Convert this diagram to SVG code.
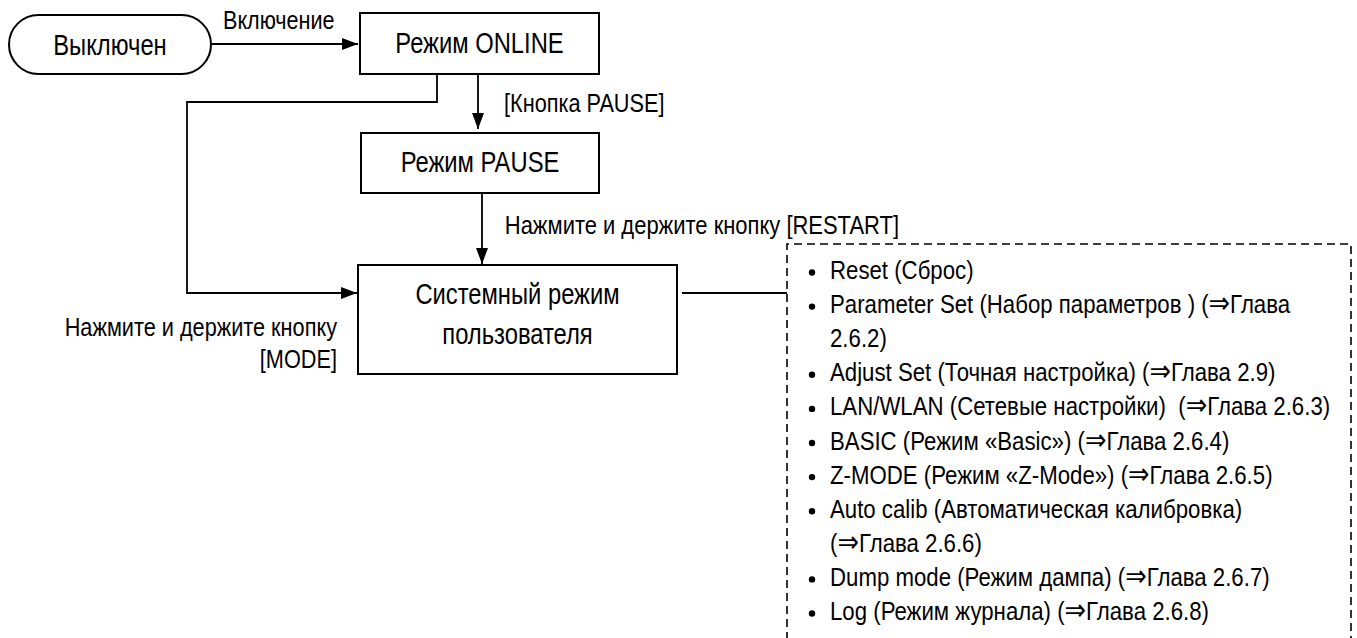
<svg xmlns="http://www.w3.org/2000/svg" width="1357" height="638" viewBox="0 0 1357 638">
<defs>
<style>
text{font-family:"Liberation Sans",Arial,"DejaVu Sans",sans-serif;fill:#000;}
.n{font-size:29px;text-anchor:middle;}
.l{font-size:26px;}
.e{text-anchor:end;}
.ar{font-family:"DejaVu Sans",sans-serif;font-size:30px;}
.box{fill:#fff;stroke:#000;stroke-width:2;}
.ln{fill:none;stroke:#000;stroke-width:1.8;}
.dash{fill:none;stroke:#000;stroke-width:1.6;stroke-dasharray:8 5;}
.b{fill:#000;}
</style>
<marker id="ah" markerUnits="userSpaceOnUse" markerWidth="17" markerHeight="12" refX="16" refY="6" orient="auto">
<path d="M0,0 L16,6 L0,12 z" fill="#000"/>
</marker>
</defs>
<rect width="1357" height="638" fill="#fff"/>
<g id="connectors">
<path class="ln" d="M211,44 H358" marker-end="url(#ah)"/>
<path class="ln" d="M478,74 V129" marker-end="url(#ah)"/>
<path class="ln" d="M437,74 V102 H187 V293 H357" marker-end="url(#ah)"/>
<path class="ln" d="M482,193 V264" marker-end="url(#ah)"/>
<path class="ln" d="M682,293 H787"/>
</g>
<g id="labels">
<text class="l" transform="translate(223,29) scale(0.83,1)">Включение</text>
<text class="l" transform="translate(504,112) scale(0.835,1)">[Кнопка PAUSE]</text>
<text class="l e" transform="translate(899,234) scale(0.845,1)">Нажмите и держите кнопку [RESTART]</text>
<text class="l e" transform="translate(337,336) scale(0.835,1)">Нажмите и держите кнопку</text>
<text class="l e" transform="translate(337,368) scale(0.835,1)">[MODE]</text>
</g>
<g id="node-off">
<rect class="box" x="9" y="15" width="202" height="59" rx="29.5" ry="29.5"/>
<text class="n" transform="translate(110,55) scale(0.82,1)">Выключен</text>
</g>
<g id="node-online">
<rect class="box" x="360" y="13" width="239" height="61"/>
<text class="n" transform="translate(479.5,53) scale(0.82,1)">Режим ONLINE</text>
</g>
<g id="node-pause">
<rect class="box" x="361" y="133" width="238" height="60"/>
<text class="n" transform="translate(480,172) scale(0.82,1)">Режим PAUSE</text>
</g>
<g id="node-system">
<rect class="box" x="358" y="265" width="319" height="109"/>
<text class="n" transform="translate(517.5,304) scale(0.82,1)">Системный режим</text>
<text class="n" transform="translate(517.5,344) scale(0.82,1)">пользователя</text>
</g>
<g id="node-list">
<path class="dash" d="M787,640 V244 H1351 V640"/>
<circle class="b" cx="812" cy="272.5" r="3.2"/>
<text class="l" transform="translate(830,279) scale(0.855,1)">Reset (Сброс)</text>
<circle class="b" cx="812" cy="306.6" r="3.2"/>
<text class="l" transform="translate(830,313.1) scale(0.855,1)">Parameter Set (Набор параметров ) (<tspan class="ar">⇒</tspan>Глава</text>
<text class="l" transform="translate(830,347.2) scale(0.855,1)">2.6.2)</text>
<circle class="b" cx="812" cy="374.8" r="3.2"/>
<text class="l" transform="translate(830,381.3) scale(0.855,1)">Adjust Set (Точная настройка) (<tspan class="ar">⇒</tspan>Глава 2.9)</text>
<circle class="b" cx="812" cy="408.9" r="3.2"/>
<text class="l" transform="translate(830,415.4) scale(0.855,1)">LAN/WLAN (Сетевые настройки)&#160; (<tspan class="ar">⇒</tspan>Глава 2.6.3)</text>
<circle class="b" cx="812" cy="443" r="3.2"/>
<text class="l" transform="translate(830,449.5) scale(0.855,1)">BASIC (Режим «Basic») (<tspan class="ar">⇒</tspan>Глава 2.6.4)</text>
<circle class="b" cx="812" cy="477.1" r="3.2"/>
<text class="l" transform="translate(830,483.6) scale(0.855,1)">Z-MODE (Режим «Z-Mode») (<tspan class="ar">⇒</tspan>Глава 2.6.5)</text>
<circle class="b" cx="812" cy="511.2" r="3.2"/>
<text class="l" transform="translate(830,517.7) scale(0.855,1)">Auto calib (Автоматическая калибровка)</text>
<text class="l" transform="translate(830,551.8) scale(0.855,1)">(<tspan class="ar">⇒</tspan>Глава 2.6.6)</text>
<circle class="b" cx="812" cy="579.4" r="3.2"/>
<text class="l" transform="translate(830,585.9) scale(0.855,1)">Dump mode (Режим дампа) (<tspan class="ar">⇒</tspan>Глава 2.6.7)</text>
<circle class="b" cx="812" cy="613.5" r="3.2"/>
<text class="l" transform="translate(830,620) scale(0.855,1)">Log (Режим журнала) (<tspan class="ar">⇒</tspan>Глава 2.6.8)</text>
</g>
</svg>
